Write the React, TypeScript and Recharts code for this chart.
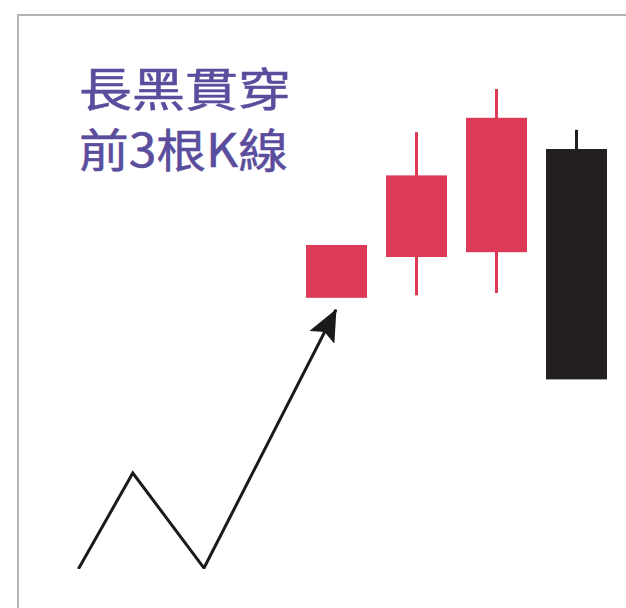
import React from 'react';
import { ComposedChart, Bar, Line, XAxis, YAxis } from 'recharts';

// candles: 3 rising red K-lines, then the long black one
const candleLabels = ['K1', 'K2', 'K3', 'K4'];
const opens = [56.5, 65, 66, 87.5];
const closes = [67.5, 82, 94, 39.5];
const highs = [67.5, 91, 100, 91.5];
const lows = [56.5, 57, 57.5, 39.5];

// the zig-zag trend leading up to the first candle
const trendX = [0.78, 1.46, 2.35, 4.0];
const trendY = [0, 20, 0.2, 54];

const titleLines = ['長黑貫穿', '前3根K線'];

const RED = '#dc3a56';
const BLACK = '#231f20';

const candleData = candleLabels.map((name, i) => ({
  name,
  open: opens[i],
  close: closes[i],
  high: highs[i],
  low: lows[i],
  range: [lows[i], highs[i]],
}));

const trendData = trendX.map((x, i) => ({ x, y: trendY[i] }));

const Candle = (props: any) => {
  const { x, y, width, height, payload } = props;
  const top = Math.min(y, y + height);
  const h = Math.abs(height);
  const { open, close, high, low } = payload;
  const ppu = h / (high - low || 1);
  const bodyTop = top + (high - Math.max(open, close)) * ppu;
  const bodyBottom = top + (high - Math.min(open, close)) * ppu;
  const color = close >= open ? RED : BLACK;
  const cx = x + width / 2;
  return (
    <g>
      <line x1={cx} x2={cx} y1={top} y2={bodyBottom === top + h ? bodyBottom - 1 : top + h} stroke={color} strokeWidth={3} />
      <rect x={x} y={bodyTop} width={width} height={bodyBottom - bodyTop} fill={color} />
    </g>
  );
};

export default function App() {
  return (
    <div style={{ position: 'absolute', left: 0, top: 0, width: 626, height: 608, overflow: 'hidden', background: '#fff' }}>
      <ComposedChart
        width={626}
        height={608}
        data={candleData}
        margin={{ top: 89, right: 10, bottom: 39, left: 16 }}
      >
        <defs>
          <marker id="arrowHead" viewBox="0 0 32 28" refX={31} refY={14} markerWidth={32} markerHeight={28} markerUnits="userSpaceOnUse" orient="auto">
            <path d="M0,0 L32,14 L0,28 L6,14 Z" fill="#1a1a1a" />
          </marker>
        </defs>
        <rect x={18} y={15} width={700} height={700} fill="none" stroke="#b3b3b3" strokeWidth={2} />
        {titleLines.map((t, i) => (
          <text
            key={t}
            x={79}
            y={106 + i * 61}
            fill="#5b4d9d"
            stroke="#5b4d9d"
            strokeWidth={0.5}
            fontSize={46}
            fontWeight={400}
            textLength={i === 0 ? 212 : 209}
            lengthAdjust="spacingAndGlyphs"
            fontFamily='"Noto Sans CJK TC", "Noto Sans", sans-serif'
          >
            {t}
          </text>
        ))}
        <XAxis xAxisId="candle" dataKey="name" type="category" hide padding={{ left: 280, right: 0 }} />
        <XAxis xAxisId="trend" dataKey="x" type="number" domain={[0, 7.5]} hide allowDataOverflow />
        <YAxis type="number" domain={[0, 100]} hide allowDataOverflow />
        <Bar
          xAxisId="candle"
          dataKey="range"
          barSize={61}
          shape={<Candle />}
          isAnimationActive={false}
        />
        <Line
          xAxisId="trend"
          data={trendData}
          dataKey="y"
          type="linear"
          stroke="#1a1a1a"
          strokeWidth={3}
          dot={false}
          activeDot={false}
          markerEnd="url(#arrowHead)"
          isAnimationActive={false}
        />
      </ComposedChart>
    </div>
  );
}
